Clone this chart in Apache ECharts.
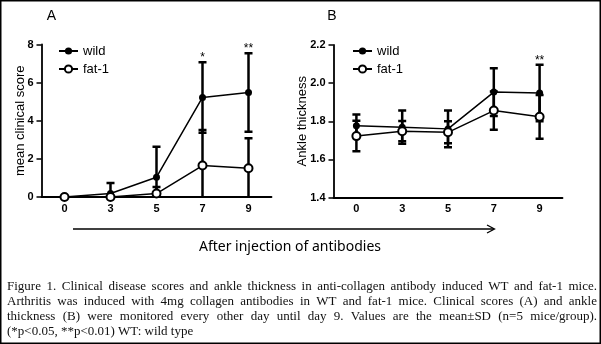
<!DOCTYPE html>
<html>
<head>
<meta charset="utf-8">
<script src="https://cdn.jsdelivr.net/npm/echarts@6/dist/echarts.min.js"></script>
<style>
html,body{margin:0;padding:0;background:#fff;}
#c{width:601px;height:344px;}
</style>
</head>
<body>
<div id="c"></div>
<script>
// ---- data ----
const days = ['0', '3', '5', '7', '9'];
// Panel A: mean clinical score
const wildScore   = [0, 0.18, 1.04, 5.22, 5.48];
const wildScoreSD = [0, 0.55, 1.60, 1.85, 2.06];
const fatScore    = [0, 0, 0.18, 1.65, 1.51];
const fatScoreSD  = [0, 0, 0.34, 1.87, 1.57];
const sigA        = ['', '', '', '*', '**'];
// Panel B: ankle thickness
const wildAnkle   = [1.777, 1.769, 1.760, 1.953, 1.948];
const wildAnkleSD = [0.058, 0.087, 0.097, 0.125, 0.148];
const fatAnkle    = [1.722, 1.748, 1.742, 1.856, 1.823];
const fatAnkleSD  = [0.080, 0.053, 0.058, 0.100, 0.115];
const sigB        = ['', '', '', '', '**'];
const yTicksA = [0, 2, 4, 6, 8];
const yTicksB = [1.4, 1.6, 1.8, 2.0, 2.2];
const seriesNames = ['wild', 'fat-1'];
const yNames = ['mean clinical score', 'Ankle thickness'];
const panelLetters = ['A', 'B'];
const xTitle = 'After injection of antibodies';
const captionLines = [
  'Figure 1. Clinical disease scores and ankle thickness in anti-collagen antibody induced WT and fat-1 mice.',
  'Arthritis was induced with 4mg collagen antibodies in WT and fat-1 mice. Clinical scores (A) and ankle',
  'thickness (B) were monitored every other day until day 9. Values are the mean\u00b1SD (n=5 mice/group).',
  '(*p<0.05, **p<0.01) WT: wild type'
];

// ---- chart ----
const SANS = '"Liberation Sans", Arial, sans-serif';
const SERIF = '"Liberation Serif", "Times New Roman", serif';
const chart = echarts.init(document.getElementById('c'), null, {renderer: 'canvas'});

function errData(m, s) { return m.map((v, i) => [i, v - s[i], v + s[i]]); }
function errRender(params, api) {
  const x = api.value(0), lo = api.value(1), hi = api.value(2);
  if (hi - lo <= 0) return null;
  const p1 = api.coord([x, lo]), p2 = api.coord([x, hi]);
  const cw = 4;
  const st = {stroke: '#000', lineWidth: 2.5};
  return {type: 'group', children: [
    {type: 'line', shape: {x1: p1[0], y1: p1[1], x2: p2[0], y2: p2[1]}, style: st},
    {type: 'line', shape: {x1: p1[0] - cw, y1: p1[1], x2: p1[0] + cw, y2: p1[1]}, style: st},
    {type: 'line', shape: {x1: p2[0] - cw, y1: p2[1], x2: p2[0] + cw, y2: p2[1]}, style: st}
  ]};
}
const sigLookup = {};
function starRender(params, api) {
  const sig = sigLookup[params.seriesIndex][params.dataIndex];
  if (!sig) return null;
  const p = api.coord([api.value(0), api.value(1)]);
  return {type: 'text', x: p[0], y: p[1] + 1.5,
    style: {text: sig, font: '12px ' + SANS, fill: '#000', align: 'center', verticalAlign: 'bottom'}};
}

function xAxisCfg(gi) {
  return {type: 'category', gridIndex: gi, data: days, boundaryGap: true,
    axisLine: {lineStyle: {color: '#000', width: 1.8}},
    axisTick: {alignWithLabel: true, length: 4, lineStyle: {color: '#000', width: 1.5}},
    axisLabel: {color: '#000', fontFamily: SANS, fontWeight: 'bold', fontSize: 11, margin: 6},
    splitLine: {show: false}};
}
function yAxisCfg(gi, ticks, name, dec, gap) {
  return {type: 'value', gridIndex: gi, min: ticks[0], max: ticks[ticks.length - 1],
    interval: Math.round((ticks[1] - ticks[0]) * 10) / 10,
    name: name, nameLocation: 'middle', nameGap: gap, nameRotate: 90, nameMoveOverlap: false,
    nameTextStyle: {color: '#000', fontFamily: SANS, fontSize: 13},
    axisLine: {show: true, lineStyle: {color: '#000', width: 1.8}},
    axisTick: {show: true, length: 5, lineStyle: {color: '#000', width: 1.5}},
    axisLabel: {color: '#000', fontFamily: SANS, fontWeight: 'bold', fontSize: 11, margin: 8,
      formatter: v => v.toFixed(dec)},
    splitLine: {show: false}};
}

const series = [];
function addPanel(gi, wm, ws, fm, fs, sig) {
  series.push({type: 'custom', xAxisIndex: gi, yAxisIndex: gi, clip: true, z: 2,
    renderItem: errRender, data: errData(wm, ws), encode: {x: 0, y: [1, 2]}, silent: true});
  series.push({type: 'custom', xAxisIndex: gi, yAxisIndex: gi, clip: true, z: 2,
    renderItem: errRender, data: errData(fm, fs), encode: {x: 0, y: [1, 2]}, silent: true});
  series.push({type: 'line', name: seriesNames[0], xAxisIndex: gi, yAxisIndex: gi, data: wm, z: 3,
    symbol: 'circle', symbolSize: 7, showSymbol: true,
    itemStyle: {color: '#000'}, lineStyle: {color: '#000', width: 1.5}});
  series.push({type: 'line', name: seriesNames[1], xAxisIndex: gi, yAxisIndex: gi, data: fm, z: 4,
    symbol: 'circle', symbolSize: 8, showSymbol: true,
    itemStyle: {color: '#fff', borderColor: '#000', borderWidth: 2},
    lineStyle: {color: '#000', width: 1.5}});
  sigLookup[series.length] = sig;
  series.push({type: 'custom', xAxisIndex: gi, yAxisIndex: gi, clip: false, z: 5,
    renderItem: starRender, data: wm.map((v, i) => [i, v + ws[i]]), encode: {x: 0, y: 1}, silent: true});
}
addPanel(0, wildScore, wildScoreSD, fatScore, fatScoreSD, sigA);
addPanel(1, wildAnkle, wildAnkleSD, fatAnkle, fatAnkleSD, sigB);

// caption justified word placement
const mctx = document.createElement('canvas').getContext('2d');
const capFont = '13px ' + SERIF;
mctx.font = capFont;
const capLeft = 7, capRight = 597, capTop = 287, capStep = 15;
const graphics = [];
captionLines.forEach((line, li) => {
  const words = line.split(' ');
  const widths = words.map(w => mctx.measureText(w).width);
  const total = widths.reduce((a, b) => a + b, 0);
  const last = li === captionLines.length - 1;
  const gap = last ? mctx.measureText(' ').width : (capRight - capLeft - total) / (words.length - 1);
  let x = capLeft;
  words.forEach((w, wi) => {
    graphics.push({type: 'text', x: x, y: capTop + li * capStep,
      style: {text: w, font: capFont, fill: '#111', verticalAlign: 'middle', align: 'left'}});
    x += widths[wi] + gap;
  });
});
// border, panel letters, arrow, x title
graphics.push({type: 'rect', shape: {x: 0.75, y: 0.75, width: 599.5, height: 342.5},
  style: {fill: null, stroke: '#000', lineWidth: 1.5}, z: 10});
graphics.push({type: 'text', x: 51.5, y: 16.5, style: {text: panelLetters[0], font: '14px ' + SANS, fill: '#000', align: 'center', verticalAlign: 'middle'}});
graphics.push({type: 'text', x: 332, y: 16.5, style: {text: panelLetters[1], font: '14px ' + SANS, fill: '#000', align: 'center', verticalAlign: 'middle'}});
graphics.push({type: 'line', shape: {x1: 73, y1: 229, x2: 494, y2: 229}, style: {stroke: '#000', lineWidth: 1.5}});
graphics.push({type: 'polyline', shape: {points: [[487, 225], [494.5, 229], [487, 233]]}, style: {stroke: '#000', lineWidth: 1.3, fill: null}});
graphics.push({type: 'text', x: 290, y: 247, style: {text: xTitle, font: '14px "Noto Sans", sans-serif', fill: '#000', align: 'center', verticalAlign: 'middle'}});

const legendCfg = (left) => ({left: left, top: 44, padding: 0, orient: 'vertical', data: seriesNames,
  itemWidth: 19, itemHeight: 9, itemGap: 4, selectedMode: false,
  textStyle: {color: '#000', fontFamily: SANS, fontSize: 13, lineHeight: 14}});

chart.setOption({
  animation: false,
  backgroundColor: '#fff',
  grid: [
    {left: 41.5, top: 44.5, width: 230, height: 152.5},
    {left: 333.5, top: 45, width: 229, height: 152.5}
  ],
  xAxis: [xAxisCfg(0), xAxisCfg(1)],
  yAxis: [yAxisCfg(0, yTicksA, yNames[0], 0, 15), yAxisCfg(1, yTicksB, yNames[1], 1, 25)],
  legend: [legendCfg(58), legendCfg(352)],
  series: series,
  graphic: graphics
});
</script>
</body>
</html>
